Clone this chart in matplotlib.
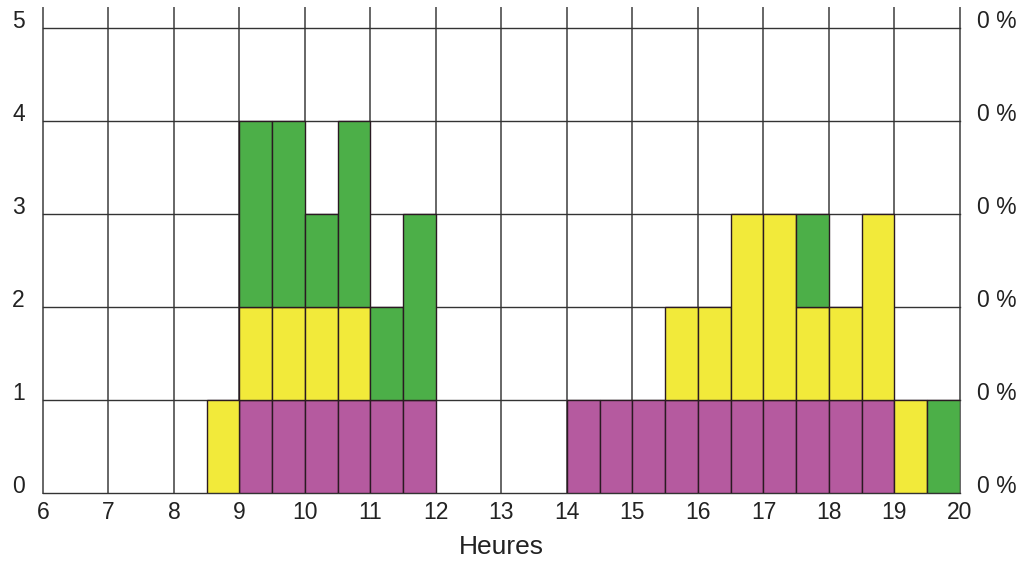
import numpy as np
import matplotlib
matplotlib.use('Agg')
import matplotlib.pyplot as plt

plt.rcParams['font.family'] = ['Liberation Sans', 'DejaVu Sans']

# half-hour slots (left edge of each bar)
slots = [8.5, 9.0, 9.5, 10.0, 10.5, 11.0, 11.5, 12.0, 12.5, 13.0, 13.5,
         14.0, 14.5, 15.0, 15.5, 16.0, 16.5, 17.0, 17.5, 18.0, 18.5, 19.0, 19.5]
violet = [0, 1, 1, 1, 1, 1, 1, 0, 0, 0, 0,
          1, 1, 1, 1, 1, 1, 1, 1, 1, 1, 0, 0]
jaune = [1, 1, 1, 1, 1, 0, 0, 0, 0, 0, 0,
         0, 0, 0, 1, 1, 2, 2, 1, 1, 2, 1, 0]
vert = [0, 2, 2, 1, 2, 1, 2, 0, 0, 0, 0,
        0, 0, 0, 0, 0, 0, 0, 1, 0, 0, 0, 1]

hours = list(range(6, 21))
y_ticks = [0, 1, 2, 3, 4, 5]
right_labels = ['0 %'] * 6

c_violet = '#b55a9f'
c_jaune = '#f2ea3a'
c_vert = '#4caf48'
edge = '#2a1a22'

fig = plt.figure(figsize=(10.18, 5.64), dpi=100)
ax = fig.add_axes([0.0422, 0.1259, 0.9008, 0.8599])

v = np.array(violet)
j = np.array(jaune)
g = np.array(vert)

for vals, base, col in [(v, 0, c_violet), (j, v, c_jaune), (g, v + j, c_vert)]:
    mask = vals > 0
    ax.bar(np.array(slots)[mask], vals[mask], width=0.5, align='edge',
           bottom=(base if np.isscalar(base) else base[mask]),
           color=col, edgecolor=edge, linewidth=1.0, zorder=3)

ax.set_xlim(6, 20)
ax.set_ylim(0, 5.21)
ax.set_xticks(hours)
ax.set_yticks(y_ticks)
ax.grid(True, axis='y', color='#333333', linewidth=1.0, zorder=0)
ax.grid(True, axis='x', color='#666666', linewidth=1.4, zorder=0)
for gl in ax.get_xgridlines() + ax.get_ygridlines():
    gl.set_clip_on(False)
ax.set_axisbelow(True)
for s in ax.spines.values():
    s.set_visible(False)
ax.tick_params(axis='both', length=0, labelsize=16.5, colors='#222222')
ax.tick_params(axis='y', pad=13)
ax.tick_params(axis='x', pad=6)
for lbl in ax.get_yticklabels():
    lbl.set_verticalalignment('baseline')
ax.set_xlabel('Heures', fontsize=19, color='#222222', labelpad=8)

ax2 = ax.twinx()
ax2.set_ylim(ax.get_ylim())
ax2.set_yticks(y_ticks)
ax2.set_yticklabels(right_labels)
ax2.tick_params(axis='y', length=0, labelsize=16.5, colors='#222222', pad=12)
for lbl in ax2.get_yticklabels():
    lbl.set_verticalalignment('baseline')
for s in ax2.spines.values():
    s.set_visible(False)

fig.savefig('out.png', dpi=100)
